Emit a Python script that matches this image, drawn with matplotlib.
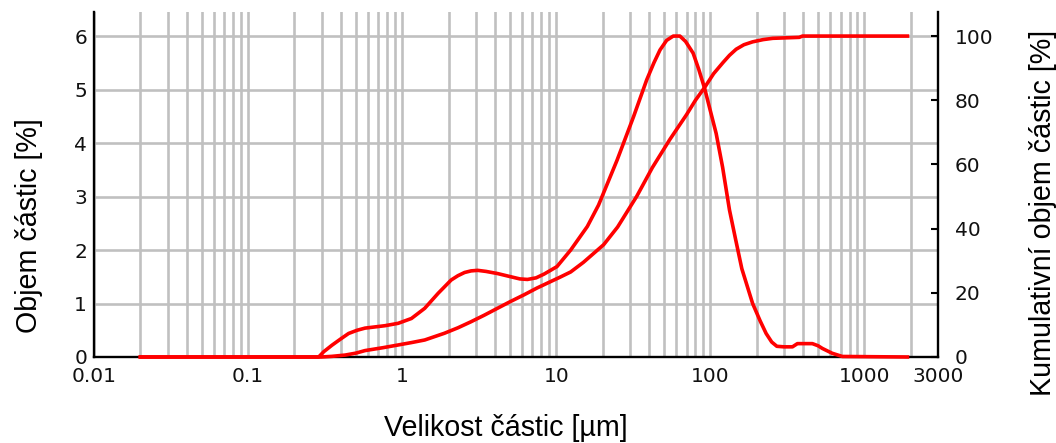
import numpy as np
import matplotlib
matplotlib.use('Agg')
import matplotlib.pyplot as plt
from matplotlib.ticker import LogLocator, NullFormatter

# data
freq_x = [0.02, 0.287, 0.31, 0.35, 0.40, 0.449, 0.51, 0.574, 0.773, 0.942, 1.148, 1.40, 1.71,
          2.08, 2.3, 2.54, 2.8, 3.09, 3.5, 4.16, 5.07, 5.8, 6.5, 7.4, 8.33, 10.1, 12.4, 15.9,
          18.8, 24.8, 31.7, 38.6, 43, 47.1, 52, 57.4, 63.4, 69, 77.3, 84, 91.8, 100, 109, 120,
          133, 146, 160, 188, 210, 230, 250, 270, 300, 341, 367, 459, 500, 533, 617, 718, 1900]
freq_y = [0, 0, 0.1, 0.22, 0.34, 0.44, 0.50, 0.54, 0.585, 0.63, 0.72, 0.91, 1.19,
          1.44, 1.52, 1.58, 1.61, 1.62, 1.60, 1.56, 1.50, 1.46, 1.45, 1.48, 1.55, 1.69, 2.0, 2.44,
          2.84, 3.68, 4.49, 5.18, 5.5, 5.74, 5.92, 6.0, 6.0, 5.9, 5.68, 5.38, 5.02, 4.6, 4.18, 3.55,
          2.75, 2.19, 1.65, 1.0, 0.68, 0.44, 0.28, 0.2, 0.19, 0.19, 0.25, 0.25, 0.21, 0.16, 0.07, 0.01, 0]

cum_x = [0.02, 0.30, 0.35, 0.426, 0.5, 0.574, 0.75, 0.942, 1.15, 1.40, 1.88, 2.3, 2.80, 3.4,
         4.16, 5.0, 6.19, 7.5, 9.19, 10.5, 12.4, 15, 20.3, 25, 33.3, 42, 54.6, 70, 80, 91.8,
         105, 121, 133, 147, 165, 188, 220, 254, 377, 396, 1900]
cum_y = [0, 0, 0.2, 0.6, 1.2, 2.0, 2.9, 3.75, 4.5, 5.3, 7.4, 9.1, 11.0, 13.0,
         15.2, 17.2, 19.4, 21.5, 23.5, 24.8, 26.5, 29.5, 35.0, 40.5, 50.1, 59.0, 67.8, 75.5, 80.0, 84.0,
         88.3, 91.8, 94.0, 95.9, 97.3, 98.2, 98.9, 99.3, 99.6, 100, 100]

x_ticks = [0.01, 0.1, 1, 10, 100, 1000, 3000]
x_labels = ['0.01', '0.1', '1', '10', '100', '1000', '3000']
left_ticks = [0, 1, 2, 3, 4, 5, 6]
right_ticks = [0, 20, 40, 60, 80, 100]

W, H = 1056, 443
fig = plt.figure(figsize=(W / 100, H / 100), dpi=100)
ax = fig.add_axes([94 / W, 1 - 357 / H, (938 - 94) / W, (357 - 12) / H])
ax2 = ax.twinx()

tick_font = {'family': 'DejaVu Sans', 'size': 14.5}
label_font = {'family': 'Liberation Sans', 'size': 20.6}

ax.set_xscale('log')
ax.set_xlim(0.01, 3000)
ax.set_ylim(0, 6.45)
ax2.set_ylim(0, 107.5)

ax.plot(freq_x, freq_y, color='#ff0000', lw=2.6, zorder=3, clip_on=False,
        solid_joinstyle='round')
ax2.plot(cum_x, cum_y, color='#ff0000', lw=2.6, zorder=3, clip_on=False,
         solid_joinstyle='round')

ax.xaxis.set_minor_locator(LogLocator(base=10, subs=np.arange(2, 10)))
ax.xaxis.set_minor_formatter(NullFormatter())
ax.set_xticks(x_ticks)
ax.set_xticklabels(x_labels, fontdict=tick_font)
ax.set_yticks(left_ticks)
ax.set_yticklabels([str(v) for v in left_ticks], fontdict=tick_font)
ax.tick_params(axis='x', which='both', length=0, pad=7, colors='#111111')
ax.tick_params(axis='y', length=0, pad=5, colors='#111111')

ax2.set_yticks(right_ticks)
ax2.set_yticklabels([str(v) for v in right_ticks], fontdict=tick_font)
ax2.tick_params(axis='y', direction='in', length=5, width=1.5, pad=12,
                colors='#111111', color='black')

ax.grid(True, which='both', axis='x', color='#c0c0c0', lw=1.9)
ax.grid(True, which='major', axis='y', color='#c0c0c0', lw=1.9)
ax.set_axisbelow(True)

ax.spines['top'].set_visible(False)
ax.spines['right'].set_visible(False)
for s in ['top', 'bottom', 'left']:
    ax2.spines[s].set_visible(False)
for s in ['left', 'bottom']:
    ax.spines[s].set_linewidth(1.7)
    ax.spines[s].set_color('black')
ax2.spines['right'].set_linewidth(1.7)
ax2.spines['right'].set_color('black')

fig.text(506 / W, 1 - 436 / H, 'Velikost částic [µm]', ha='center', va='baseline', fontdict=label_font)
fig.text(37 / W, 1 - 225.5 / H, 'Objem částic [%]', rotation=90, rotation_mode='anchor',
         ha='center', va='baseline', fontdict=label_font)
fig.text(1051 / W, 1 - 213 / H, 'Kumulativní objem částic [%]', rotation=90, rotation_mode='anchor',
         ha='center', va='baseline', fontdict=label_font)

fig.savefig('out.png', dpi=100)
